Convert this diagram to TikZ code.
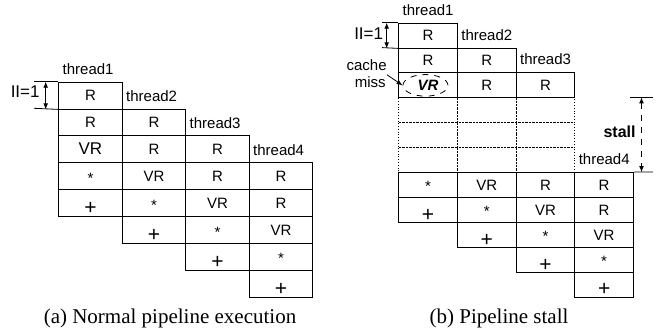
\documentclass[tikz,border=0pt]{standalone}
\usepackage{fontspec}
\setmainfont{Liberation Serif}
\newfontfamily\helv{Liberation Sans}
\usetikzlibrary{arrows.meta, shapes.geometric}

\newcommand\cellfont{\helv\fontsize{7.5}{8.3}\selectfont}
\newcommand\starop{\raisebox{-0.8pt}{*}}
\newcommand\plusop{\raisebox{-3pt}{\fontsize{10.5}{10}\selectfont+}}

\tikzset{
	cell/.style = {draw, inner sep = 0pt, anchor = north west, font = \cellfont,
		text height = 5.4pt, text depth = 0pt},
	tlabel/.style = {anchor = base west, inner sep = 0pt, font = \cellfont},
	caption/.style = {font = \fontsize{10.5}{12}\selectfont}
}

\begin{document}
\begin{tikzpicture}[x = 0.5pt, y = -0.5pt, > = {Latex[length = 3pt, width = 2.4pt]}]

	\useasboundingbox (0, 0) rectangle (665, 336);

	% Normal pipeline execution: one column per thread, shifted by II
	
	\begin{scope}[cell/.append style = {minimum width = 31.75pt, minimum height = 13.45pt}]
	
		\foreach \t in {1, ..., 4} {
			\foreach \op [count = \r] in {R, R, VR, \starop, \plusop} {
				\node [cell] (a-\t-\r) at ({58.3 + 63.5 * (\t - 1)}, {81.7 + 26.9 * (\t + \r - 2)})
					{\ifnum\t=1 \ifnum\r=3 \fontsize{8.5}{9}\selectfont\fi\fi\op};
			}
			\node [tlabel] (a-name-\t) at ([shift = {(4, -7)}] a-\t-1.north west) {thread\t};
		}
		
	\end{scope}
	
	% Initiation interval
	
	\coordinate (a-ii) at (45.7, 0);
	\draw (34, 81.7) -- (a-1-1.north west);
	\draw (34, 108.3) -- (a-1-1.south west);
	\draw [<->] (a-1-1.north west -| a-ii) -- (a-1-1.south west -| a-ii);
	\node [anchor = east, inner sep = 0pt, font = \helv\fontsize{8.5}{9}\selectfont] (a-ii-text) at (40, 92) {II=1};
	
	% Pipeline stall: empty rows first, solid cells on top
	
	\begin{scope}[cell/.append style = {minimum width = 29.35pt, minimum height = 12.45pt}]
	
		\foreach \c in {0, 1, 2} {
			\foreach \k in {4, 5, 6} {
				\node [cell, densely dotted] (b-stall-\c-\k) at ({398.3 + 58.7 * \c}, {22.7 + 24.9 * (\k - 1)}) {};
			}
		}
		
		\foreach \t in {1, ..., 4} {
			\foreach \op [count = \r] in {R, R, VR, \starop, \plusop} {
				\pgfmathtruncatemacro\k{\t + \r - 1 + 3 * ((\t + \r - 1) > 3)}
				\node [cell] (b-\t-\r) at ({398.3 + 58.7 * (\t - 1)}, {22.7 + 24.9 * (\k - 1)})
					{\ifnum\t=1 \ifnum\r=3 \bfseries\itshape\fi\fi\op};
			}
			\node [tlabel] (b-name-\t) at ([shift = {(4, -7.5)}] b-\t-1.north west) {thread\t};
		}
		
	\end{scope}
	
	% Initiation interval
	
	\coordinate (b-ii) at (386.7, 0);
	\draw (382, 22.7) -- (b-1-1.north west);
	\draw (382, 47.6) -- (b-1-1.south west);
	\draw [<->] (b-1-1.north west -| b-ii) -- (b-1-1.south west -| b-ii);
	\node [anchor = east, inner sep = 0pt, font = \helv\fontsize{8.5}{9}\selectfont] (b-ii-text) at (383.5, 34) {II=1};
	
	% The cache miss
	
	\node [draw, dashed, ellipse, minimum width = 22.5pt, minimum height = 10.8pt, inner sep = 0pt] (b-vr) at ([xshift = -1.3pt] b-1-3.center) {};
	\node [anchor = east, inner sep = 0.5pt, font = \cellfont] (b-cache) at (388, 65) {cache};
	\node [anchor = east, inner sep = 0.5pt, font = \cellfont] (b-miss) at (387, 81.7) {miss};
	\draw [->] (b-miss.north east) -- (b-vr.west);
	
	% Length of the stall
	
	\coordinate (b-stall-top) at (653, 97.4);
	\coordinate (b-stall-bot) at (653, 172.1);
	\coordinate (b-stall-x) at (641.5, 0);
	\draw (630, 97.4) -- (b-stall-top);
	\draw (b-4-1.north east) -- (b-stall-bot);
	\draw [<->, dashed] (b-stall-top -| b-stall-x) -- (b-stall-bot -| b-stall-x);
	\node [anchor = east, inner sep = 0pt, font = \helv\bfseries\fontsize{8}{9}\selectfont] (b-stall) at (636, 131.7) {stall};
	
	% Captions
	
	\node [caption] (a-caption) at (170, 318) {(a) Normal pipeline execution};
	\node [caption] (b-caption) at (499, 318) {(b) Pipeline stall};
		
\end{tikzpicture}
\end{document}
